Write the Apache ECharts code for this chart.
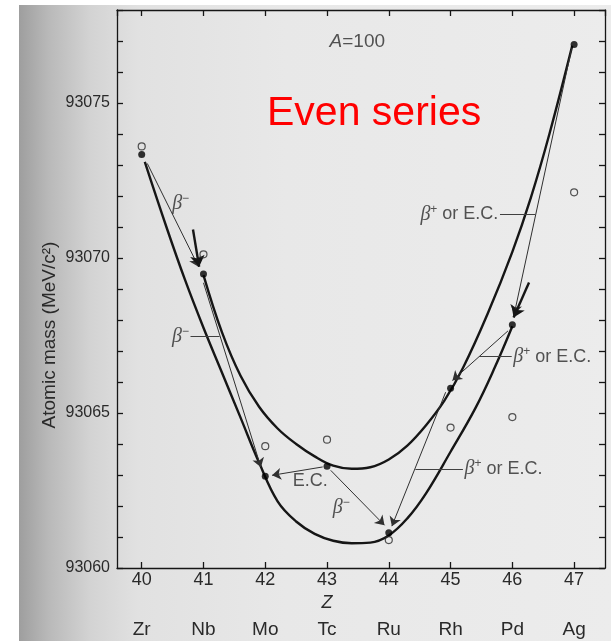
<!DOCTYPE html>
<html><head><meta charset="utf-8">
<script src="https://cdn.jsdelivr.net/npm/echarts@6/dist/echarts.min.js"></script>
<style>html,body{margin:0;padding:0;background:#fff;}#c{width:611px;height:641px;}</style>
</head><body><div id="c"></div>
<script>
// ---- data ----
const zValues = [40, 41, 42, 43, 44, 45, 46, 47];
const elements = ['Zr', 'Nb', 'Mo', 'Tc', 'Ru', 'Rh', 'Pd', 'Ag'];
const evenMass = [93073.34, 93069.48, 93062.96, 93063.28, 93061.14, 93065.80, 93067.85, 93076.89];
const openMass = [93073.60, 93070.12, 93063.93, 93064.14, 93060.90, 93064.53, 93064.87, 93072.12];
const yTicks = [93060, 93065, 93070, 93075];

const lowerCurveZ = [40.05, 40.4, 40.7, 41.0, 41.3, 41.6, 41.9, 42.2, 42.5, 42.8, 43.1, 43.4, 43.7, 44.0, 44.3, 44.6, 45.0, 45.4, 45.7, 46.0];
const lowerCurveM = [93073.1, 93071.0, 93069.3, 93067.75, 93066.3, 93064.85, 93063.4, 93062.15, 93061.5, 93061.1, 93060.88, 93060.8, 93060.82, 93061.05, 93061.6, 93062.4, 93063.75, 93065.15, 93066.4, 93067.8];
const upperCurveZ = [41.0, 41.3, 41.6, 41.9, 42.2, 42.5, 42.8, 43.1, 43.4, 43.7, 44.0, 44.3, 44.6, 44.9, 45.2, 45.6, 46.0, 46.3, 46.6, 46.97];
const upperCurveM = [93069.45, 93067.6, 93066.2, 93065.2, 93064.5, 93064.0, 93063.6, 93063.3, 93063.2, 93063.25, 93063.5, 93063.95, 93064.6, 93065.4, 93066.45, 93068.2, 93070.2, 93071.95, 93074.0, 93076.85];

// decay arrows: [fromZ, fromM, toZ, toM]
const decayArrows = [
  [40.09, 93073.05, 40.92, 93069.72],
  [41.00, 93069.20, 41.93, 93063.25],
  [42.93, 93063.26, 42.11, 93062.99],
  [43.06, 93063.15, 43.93, 93061.38],
  [44.92, 93065.67, 44.05, 93061.35],
  [45.93, 93067.65, 45.03, 93066.05],
  [46.96, 93076.76, 46.03, 93068.19]
];
// arrow tips drawn on the curves: [fromZ, fromM, toZ, toM]
const curveArrows = [
  [40.83, 93070.92, 40.93, 93069.72],
  [46.27, 93069.21, 46.02, 93068.08]
];
// label leader lines: [fromZ, toZ, M]
const leaders = [
  [40.79, 41.26, 93067.46],
  [44.43, 45.20, 93063.20],
  [45.46, 45.99, 93066.82],
  [45.80, 46.37, 93071.41]
];
// annotations: [Z, M, text, anchor]
const notes = [
  [40.63, 93071.74, 'β−', 'center'],
  [40.78, 93067.46, 'β−', 'end'],
  [42.43, 93062.80, 'E.C.', 'start'],
  [43.23, 93061.93, 'β−', 'center'],
  [45.21, 93063.20, 'β+ or E.C.', 'start'],
  [46.00, 93066.82, 'β+ or E.C.', 'start'],
  [45.79, 93071.41, 'β+ or E.C.', 'end'],
  [43.49, 93076.98, 'A=100', 'center']
];

// ---- chart ----
const INK = '#161616';
const TXT = '#2a2a2a';
const SANS = 'Liberation Sans';
const rich = {
  b: {fontFamily: 'Liberation Serif', fontStyle: 'italic', fontSize: 20, color: TXT},
  s: {fontFamily: SANS, fontSize: 12, color: TXT, padding: [0, 0, 10, 0]},
  t: {fontFamily: SANS, fontSize: 18, color: TXT},
  i: {fontFamily: SANS, fontStyle: 'italic', fontSize: 19, color: TXT},
  u: {fontFamily: SANS, fontSize: 19, color: TXT}
};
function toRich(text) {
  if (text === 'A=100') return '{i|A}{u|=100}';
  if (text.startsWith('β')) {
    const sign = text.charAt(1);
    const rest = text.slice(2);
    return '{b|β}{s|' + sign + '}' + (rest ? '{t|' + rest + '}' : '');
  }
  return '{t|' + text + '}';
}

const pair = (xs, ys) => xs.map((x, i) => [x, ys[i]]);

const chart = echarts.init(document.getElementById('c'));
const axisLineStyle = {color: INK, width: 1.3};
const option = {
  backgroundColor: '#ffffff',
  animation: false,
  title: {
    text: 'Even series', left: 262, top: 88,
    textStyle: {color: '#ff0000', fontSize: 41, fontWeight: 'normal', fontFamily: SANS}
  },
  graphic: [
    {
      type: 'rect', z: -100, silent: true,
      shape: {x: 19, y: 5, width: 592, height: 636},
      style: {
        fill: new echarts.graphic.LinearGradient(0, 0, 1, 0, [
          {offset: 0, color: '#9e9e9e'},
          {offset: 0.05, color: '#b9b9b9'},
          {offset: 0.12, color: '#d3d3d3'},
          {offset: 0.2, color: '#e1e1e1'},
          {offset: 0.45, color: '#e8e8e8'},
          {offset: 1, color: '#ececec'}
        ])
      }
    },
    {
      type: 'text', x: 50, y: 335, rotation: Math.PI / 2,
      style: {text: 'Atomic mass (MeV/c²)', font: '19px "Liberation Sans"', fill: TXT, align: 'center', verticalAlign: 'middle'}
    }
  ],
  grid: {left: 117, right: 6, top: 10, bottom: 73},
  xAxis: [
    {
      type: 'value', min: 39.6, max: 47.5, splitNumber: 8, position: 'bottom',
      axisLine: {show: true, lineStyle: axisLineStyle},
      axisTick: {show: true, inside: true, length: 6, lineStyle: axisLineStyle},
      splitLine: {show: false},
      axisLabel: {
        margin: 1, showMinLabel: false, showMaxLabel: false,
        formatter: function (v) {
          const idx = zValues.indexOf(Math.round(v * 1000) / 1000);
          if (idx < 0) return '';
          return '{n|' + zValues[idx] + '}\n{z|' + (zValues[idx] === 43 ? 'Z' : ' ') + '}\n{e|' + elements[idx] + '}';
        },
        rich: {
          n: {fontFamily: SANS, fontSize: 18, color: TXT, lineHeight: 22},
          z: {fontFamily: SANS, fontStyle: 'italic', fontSize: 18, color: TXT, lineHeight: 24},
          e: {fontFamily: SANS, fontSize: 19, color: TXT, lineHeight: 30}
        }
      }
    },
    {
      type: 'value', min: 39.6, max: 47.5, splitNumber: 8, position: 'top',
      axisLine: {show: true, lineStyle: axisLineStyle},
      axisTick: {show: true, inside: true, length: 6, lineStyle: axisLineStyle},
      splitLine: {show: false}, axisLabel: {show: false}
    }
  ],
  yAxis: [
    {
      type: 'value', min: 93060, max: 93078, interval: 1, position: 'left',
      axisLine: {show: true, lineStyle: axisLineStyle},
      axisTick: {show: true, inside: true, length: 6, lineStyle: axisLineStyle},
      splitLine: {show: false},
      axisLabel: {
        margin: 7, color: TXT, fontFamily: SANS, fontSize: 16,
        formatter: v => (yTicks.indexOf(v) >= 0 ? String(v) : '')
      }
    },
    {
      type: 'value', min: 93060, max: 93078, interval: 1, position: 'right',
      axisLine: {show: true, lineStyle: axisLineStyle},
      axisTick: {show: true, inside: true, length: 6, lineStyle: axisLineStyle},
      splitLine: {show: false}, axisLabel: {show: false}
    }
  ],
  series: [
    {
      type: 'line', name: 'even-even', data: pair(lowerCurveZ, lowerCurveM), smooth: 0.4,
      showSymbol: false, lineStyle: {color: INK, width: 2.4}, z: 3
    },
    {
      type: 'line', name: 'odd-odd', data: pair(upperCurveZ, upperCurveM), smooth: 0.4,
      showSymbol: false, lineStyle: {color: INK, width: 2.4}, z: 3
    },
    {
      type: 'lines', coordinateSystem: 'cartesian2d', z: 4,
      symbol: ['none', 'arrow'], symbolSize: 9,
      lineStyle: {color: '#303030', width: 1, opacity: 1},
      data: decayArrows.map(a => ({coords: [[a[0], a[1]], [a[2], a[3]]]}))
    },
    {
      type: 'lines', coordinateSystem: 'cartesian2d', z: 4,
      symbol: ['none', 'arrow'], symbolSize: 11,
      lineStyle: {color: INK, width: 2.4, opacity: 1},
      data: curveArrows.map(a => ({coords: [[a[0], a[1]], [a[2], a[3]]]}))
    },
    {
      type: 'lines', coordinateSystem: 'cartesian2d', z: 4,
      symbol: ['none', 'none'],
      lineStyle: {color: '#404040', width: 1, opacity: 1},
      data: leaders.map(a => ({coords: [[a[0], a[2]], [a[1], a[2]]]}))
    },
    {
      type: 'scatter', name: 'other', z: 5,
      data: pair(zValues, openMass), symbol: 'circle', symbolSize: 7,
      itemStyle: {color: 'rgba(0,0,0,0)', borderColor: '#2a2a2a', borderWidth: 1.2}
    },
    {
      type: 'scatter', name: 'even', z: 6,
      data: pair(zValues, evenMass), symbol: 'circle', symbolSize: 7,
      itemStyle: {color: '#000000'}
    },
    {
      type: 'scatter', name: 'notes', z: 7, symbolSize: 0, silent: true,
      data: notes.map(n => ({
        value: [n[0], n[1]],
        label: {
          show: true,
          position: n[3] === 'start' ? 'right' : (n[3] === 'end' ? 'left' : 'inside'),
          distance: 1,
          formatter: toRich(n[2]),
          rich: rich
        }
      }))
    }
  ]
};
chart.setOption(option);
</script>
</body></html>
